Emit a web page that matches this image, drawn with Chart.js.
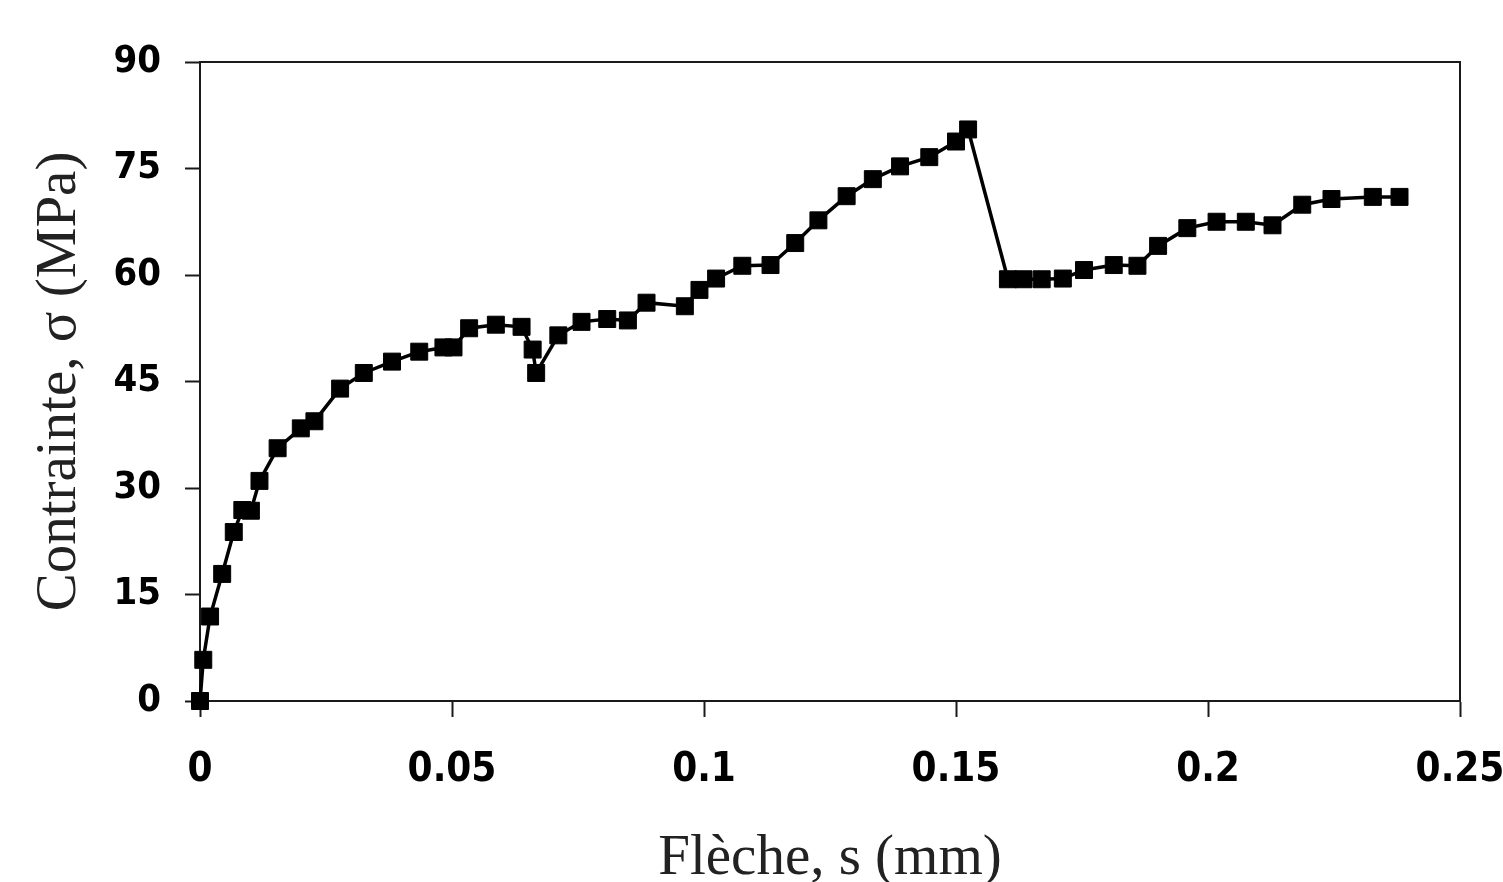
<!DOCTYPE html>
<html>
<head>
<meta charset="utf-8">
<script src="https://cdn.jsdelivr.net/npm/chart.js@4"></script>
<style>
  html, body { margin: 0; padding: 0; background: #fff; }
  #wrap { width: 1503px; height: 882px; }
</style>
</head>
<body>
<div id="wrap"><canvas id="chartFleche"></canvas></div>
<script>
// Flèche (mm) et contrainte (MPa)
const fleche = [0, 0.00065, 0.0020, 0.0044, 0.0067, 0.0084, 0.0101, 0.0118, 0.0154, 0.0200,
  0.0227, 0.0278, 0.0325, 0.0381, 0.0435, 0.0483, 0.0503, 0.0534, 0.0587, 0.0638,
  0.0660, 0.0667, 0.0711, 0.0757, 0.0808, 0.0849, 0.0886, 0.0962, 0.0991, 0.1024,
  0.1076, 0.1132, 0.1181, 0.1227, 0.1283, 0.1335, 0.1389, 0.1447, 0.1500, 0.1524,
  0.1603, 0.1634, 0.1670, 0.1712, 0.1754, 0.1813, 0.1860, 0.1901, 0.1959, 0.2017,
  0.2075, 0.2128, 0.2187, 0.2245, 0.2327, 0.2380];
const contrainte = [0, 5.8, 11.9, 17.9, 23.8, 26.9, 26.8, 31.0, 35.6, 38.4,
  39.4, 44.0, 46.2, 47.8, 49.2, 49.8, 49.8, 52.5, 53.0, 52.7,
  49.5, 46.2, 51.5, 53.4, 53.8, 53.6, 56.1, 55.6, 57.9, 59.5,
  61.3, 61.4, 64.5, 67.7, 71.1, 73.5, 75.3, 76.6, 78.8, 80.5,
  59.4, 59.4, 59.4, 59.5, 60.7, 61.4, 61.3, 64.1, 66.6, 67.5,
  67.5, 67.0, 69.9, 70.7, 71.0, 71.0];

const xTickLabels = ['0', '0.05', '0.1', '0.15', '0.2', '0.25'];
const yTickLabels = ['0', '15', '30', '45', '60', '75', '90'];

const points = fleche.map((x, i) => ({ x: x, y: contrainte[i] }));
const axisColor = '#1a1a1a';
const tickFont = { family: 'DejaVu Sans Condensed', weight: 'bold', size: 40 };
const titleFont = { family: 'Liberation Serif', size: 57, lineHeight: 0.8 };

new Chart(document.getElementById('chartFleche').getContext('2d'), {
  type: 'line',
  data: {
    datasets: [{
      data: points,
      borderColor: '#000',
      backgroundColor: '#000',
      borderWidth: 3.5,
      tension: 0,
      pointStyle: 'rect',
      pointRadius: 12,
      pointBorderWidth: 1,
      clip: false
    }]
  },
  options: {
    responsive: true,
    maintainAspectRatio: false,
    animation: false,
    layout: { padding: { top: 62, right: 43, left: 0, bottom: 0 } },
    plugins: { legend: { display: false }, tooltip: { enabled: false } },
    scales: {
      x: {
        type: 'linear', position: 'bottom', min: 0, max: 0.25,
        afterFit: (s) => { s.height = 181; s.paddingLeft = 0; s.paddingRight = 0; },
        ticks: {
          stepSize: 0.05, color: '#000', font: tickFont, padding: 30, maxRotation: 0,
          callback: (v, i) => xTickLabels[i]
        },
        grid: { drawOnChartArea: false, tickLength: 16, tickWidth: 2, tickColor: axisColor },
        border: { color: axisColor, width: 2 },
        title: { display: true, text: 'Flèche, s (mm)', color: '#222', font: titleFont, padding: 0 }
      },
      y: {
        type: 'linear', position: 'left', min: 0, max: 90,
        afterFit: (s) => { s.width = 200; },
        ticks: {
          stepSize: 15, color: '#000', font: { ...tickFont, size: 38 }, padding: 24,
          callback: (v, i) => yTickLabels[i]
        },
        grid: { drawOnChartArea: false, tickLength: 15, tickWidth: 2, tickColor: axisColor },
        border: { color: axisColor, width: 2 },
        title: { display: true, text: 'Contrainte, σ (MPa)', color: '#222', font: titleFont, padding: { top: 37 } }
      },
      xTop: {
        type: 'linear', position: 'top', min: 0, max: 0.25,
        afterFit: (s) => { s.height = 0; },
        ticks: { display: false },
        grid: { drawOnChartArea: false, drawTicks: false },
        border: { color: axisColor, width: 2 }
      },
      yRight: {
        type: 'linear', position: 'right', min: 0, max: 90,
        afterFit: (s) => { s.width = 0; },
        ticks: { display: false },
        grid: { drawOnChartArea: false, drawTicks: false },
        border: { color: axisColor, width: 2 }
      }
    }
  }
});
</script>
</body>
</html>
